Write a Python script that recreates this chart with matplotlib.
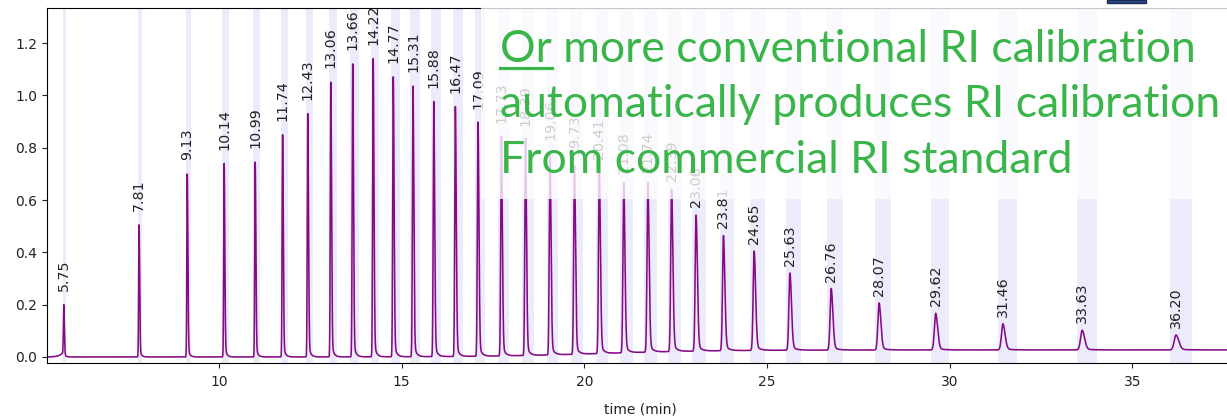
import numpy as np
import matplotlib
matplotlib.use("Agg")
import matplotlib.pyplot as plt
from matplotlib.patches import Rectangle
from matplotlib.lines import Line2D

# ---- data ----
peak_times = [5.75, 7.81, 9.13, 10.14, 10.99, 11.74, 12.43, 13.06, 13.66, 14.22,
              14.77, 15.31, 15.88, 16.47, 17.09, 17.73, 18.39, 19.06, 19.73, 20.41,
              21.08, 21.74, 22.39, 23.06, 23.81, 24.65, 25.63, 26.76, 28.07, 29.62,
              31.46, 33.63, 36.20]
peak_heights = [0.20, 0.505, 0.70, 0.74, 0.745, 0.85, 0.93, 1.05, 1.12, 1.14,
                1.07, 1.035, 0.975, 0.955, 0.895, 0.84, 0.83, 0.775, 0.72, 0.705,
                0.65, 0.65, 0.62, 0.52, 0.44, 0.38, 0.295, 0.235, 0.18, 0.14,
                0.10, 0.075, 0.057]
peak_labels = ["%.2f" % t for t in peak_times]
baseline_end = 0.027

annotation_lines = ["Or more conventional RI calibration",
                    "automatically produces RI calibration",
                    "From commercial RI standard"]

# ---- figure ----
W, H = 1227, 420
fig = plt.figure(figsize=(W / 100, H / 100), dpi=100)
ax_left, ax_right_px, ax_top_px, ax_bot_px = 47, 1233, 8, 363
ax = fig.add_axes([ax_left / W, 1 - ax_bot_px / H, (ax_right_px - ax_left) / W,
                   (ax_bot_px - ax_top_px) / H])

t = np.linspace(5.29, 37.9, 30000)
sig = baseline_end / (1 + np.exp(-(t - 20.5) / 1.6))
for i, (t0, h) in enumerate(zip(peak_times, peak_heights)):
    s = 0.011 + 4e-5 * (t0 - 5) ** 2
    left = np.exp(-0.5 * ((t - t0) / s) ** 2)
    right = 0.93 * np.exp(-0.5 * ((t - t0) / (1.5 * s)) ** 2) + 0.07 * np.exp(-np.abs(t - t0) / (4 * s))
    shape = np.where(t < t0, left, right)
    if i == 0:
        shape = shape + np.where(t < t0, 0.12 * np.exp((t - t0) / 0.1), 0)
        shape = shape / shape.max()
    sig = sig + h * shape
    # integration window band
    ax.axvspan(t0 - (0.03 + 0.004 * (t0 - 5)), t0 + (0.06 + 0.012 * (t0 - 5)),
               color="#e6e6fa", alpha=0.8, lw=0, zorder=0)

ax.plot(t, sig, color="#860a86", lw=1.15, zorder=2)

for t0, h, lab in zip(peak_times, peak_heights, peak_labels):
    ax.annotate(lab, (t0, h), xytext=(0, 10), textcoords="offset points",
                rotation=90, ha="center", va="bottom", fontsize=10.3, color="#222222",
                zorder=3)

ax.set_xlim(5.29, 37.76)
ax.set_ylim(-0.023, 1.334)
ax.set_xticks([10, 15, 20, 25, 30, 35])
ax.set_yticks([0.0, 0.2, 0.4, 0.6, 0.8, 1.0, 1.2])
ax.tick_params(labelsize=10, colors="#222222")
ax.tick_params(axis="x", pad=5)
ax.set_xlabel("time (min)", fontsize=10, color="#222222", labelpad=10)
ax.spines["right"].set_visible(False)

# ---- slide overlay ----
ov = Rectangle((481 / W, 1 - 199 / H), (W - 481) / W, 199 / H,
               transform=fig.transFigure, facecolor="white", alpha=0.78,
               edgecolor="none", zorder=5)
fig.patches.append(ov)
fig.add_artist(Rectangle((1107 / W, 1 - 3 / H), 39 / W, 3 / H,
                         transform=fig.transFigure, facecolor="#2a4d8f",
                         edgecolor="#1a2a50", lw=1, zorder=6))

green = "#39b54a"
fs = 32
baselines = [62, 117, 173]
for line, yb in zip(annotation_lines, baselines):
    fig.text(500 / W, 1 - yb / H, line, fontsize=fs, color=green,
             family="Lato", ha="left", va="baseline", zorder=7)

# underline under the first word
probe = fig.text(500 / W, 1 - baselines[0] / H, annotation_lines[0].split()[0],
                 fontsize=fs, family="Lato", ha="left", va="baseline", alpha=0)
fig.canvas.draw()
bb = probe.get_window_extent()
fig.add_artist(Line2D([bb.x0 / W, bb.x1 / W], [1 - 67.5 / H, 1 - 67.5 / H],
                      transform=fig.transFigure, color=green, lw=2.3, zorder=7))

fig.savefig("out.png", dpi=100)
